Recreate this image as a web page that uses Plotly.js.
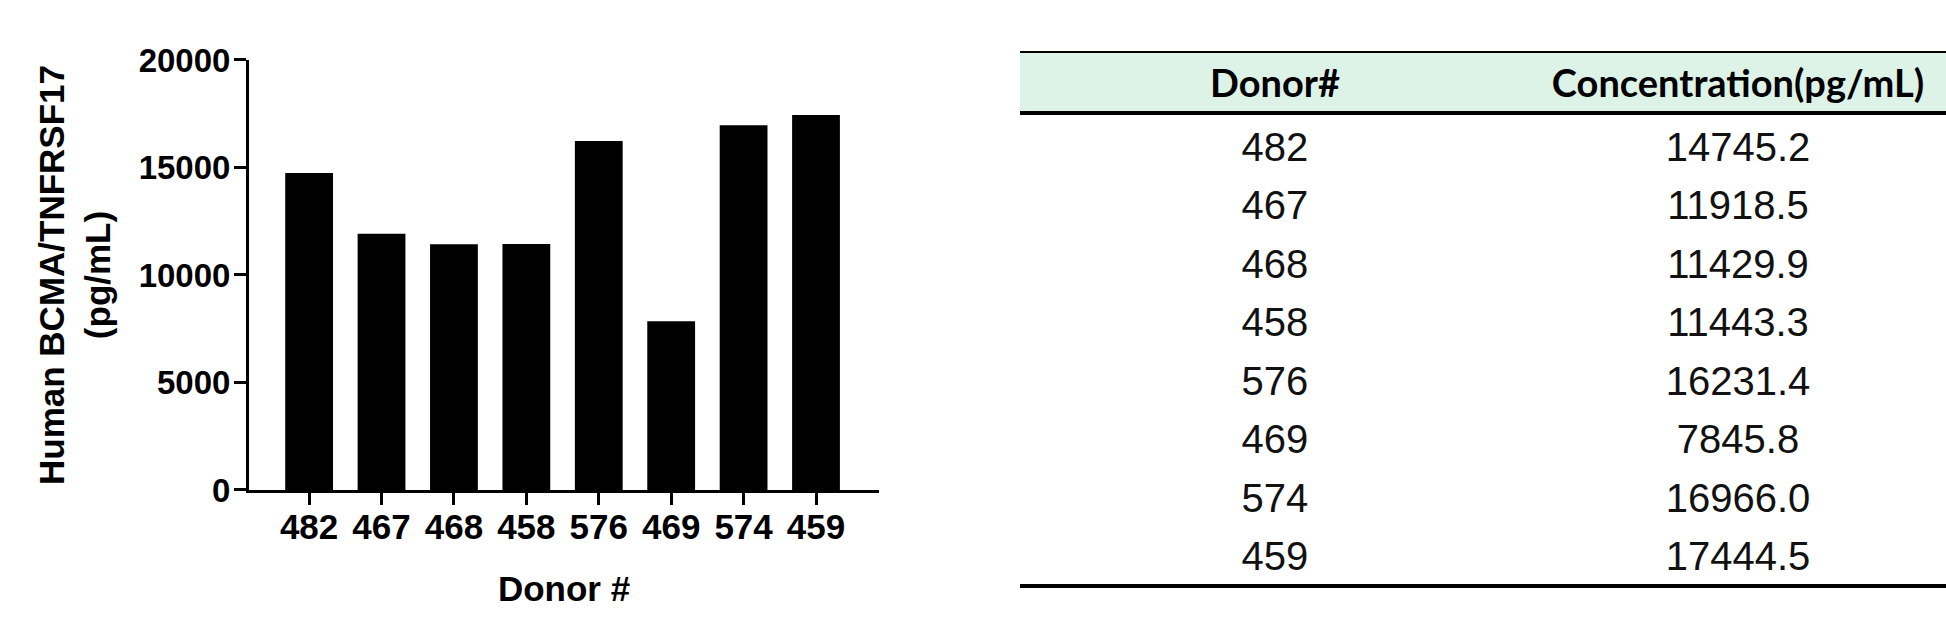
<!DOCTYPE html>
<html>
<head>
<meta charset="utf-8">
<script src="https://cdn.plot.ly/plotly-3.0.1.min.js"></script>
<style>
  html, body { margin: 0; padding: 0; background: #fff; }
  #chart { width: 1946px; height: 641px; }
</style>
</head>
<body>
<div id="chart"></div>
<script>
// donors, in the order shown on the chart and in the table
const donors = ['482', '467', '468', '458', '576', '469', '574', '459'];
// BCMA/TNFRSF17 concentration, pg/mL
const concentration = [14745.2, 11918.5, 11429.9, 11443.3, 16231.4, 7845.8, 16966.0, 17444.5];
const yTicks = [0, 5000, 10000, 15000, 20000];
const tableHeader = ['Donor#', 'Concentration(pg/mL)'];

const boldFont = 'Liberation Sans, Arial, sans-serif';

// bar chart of the concentrations
let bars = {
    x: donors,
    y: concentration,
    type: 'bar',
    width: 0.66,
    marker: { color: '#000000', line: { width: 0 } },
    hoverinfo: 'x+y',
    showlegend: false
};

// the table beside the chart (header fill and rules are shapes below)
let table = {
    type: 'table',
    domain: { x: [0.52415, 1], y: [0, 0.98361] },
    columnwidth: [510, 416],
    header: {
        values: tableHeader,
        align: 'center',
        height: 62,
        fill: { color: 'rgba(0,0,0,0)' },
        line: { width: 0, color: 'rgba(0,0,0,0)' },
        font: { family: 'Lato, sans-serif', size: 38, color: '#000', weight: 'bold' }
    },
    cells: {
        values: [donors, concentration],
        format: ['', '.1f'],
        align: 'center',
        height: 58.5,
        fill: { color: 'rgba(0,0,0,0)' },
        line: { width: 0, color: 'rgba(0,0,0,0)' },
        font: { family: 'Liberation Sans, Arial, sans-serif', size: 40, color: '#111' }
    }
};

let layout = {
    width: 1946,
    height: 641,
    margin: { l: 0, r: 0, t: 52, b: 40 },
    paper_bgcolor: '#ffffff',
    plot_bgcolor: '#ffffff',
    xaxis: {
        domain: [0.12796, 0.45170],
        type: 'category',
        range: [-0.83, 7.87],
        showline: true,
        linecolor: '#000',
        linewidth: 3,
        ticks: 'outside',
        ticklen: 12,
        tickwidth: 3,
        tickcolor: '#000',
        ticklabelstandoff: -8,
        showgrid: false,
        zeroline: false,
        tickfont: { family: boldFont, size: 35, color: '#000', weight: 'bold' },
        title: {
            text: 'Donor #',
            standoff: 32,
            font: { family: boldFont, size: 35, color: '#000', weight: 'bold' }
        }
    },
    yaxis: {
        domain: [0.20219, 0.98543],
        range: [0, 20000],
        tickvals: yTicks,
        ticktext: yTicks.map(String),
        showline: true,
        linecolor: '#000',
        linewidth: 3,
        ticks: 'outside',
        ticklen: 12,
        tickwidth: 3,
        tickcolor: '#000',
        ticklabelstandoff: -3,
        showgrid: false,
        zeroline: false,
        tickfont: { family: boldFont, size: 33, color: '#000', weight: 'bold' },
        title: {
            text: 'Human BCMA/TNFRSF17<br>(pg/mL)',
            standoff: 18,
            font: { family: boldFont, size: 35, color: '#000', weight: 'bold' }
        }
    },
    shapes: [
        // header band of the table
        { type: 'rect', xref: 'paper', yref: 'paper', x0: 0.52415, x1: 1, y0: 0.88889, y1: 1,
          fillcolor: '#def3e8', line: { width: 0 }, layer: 'below' },
        // rules of the table
        { type: 'line', xref: 'paper', yref: 'paper', x0: 0.52415, x1: 1, y0: 1, y1: 1,
          line: { color: '#000', width: 2 } },
        { type: 'line', xref: 'paper', yref: 'paper', x0: 0.52415, x1: 1, y0: 0.88889, y1: 0.88889,
          line: { color: '#000', width: 4 } },
        { type: 'line', xref: 'paper', yref: 'paper', x0: 0.52415, x1: 1, y0: 0.02732, y1: 0.02732,
          line: { color: '#000', width: 4 } }
    ]
};

Plotly.newPlot('chart', [bars, table], layout, { displayModeBar: false, staticPlot: true });
</script>
</body>
</html>
